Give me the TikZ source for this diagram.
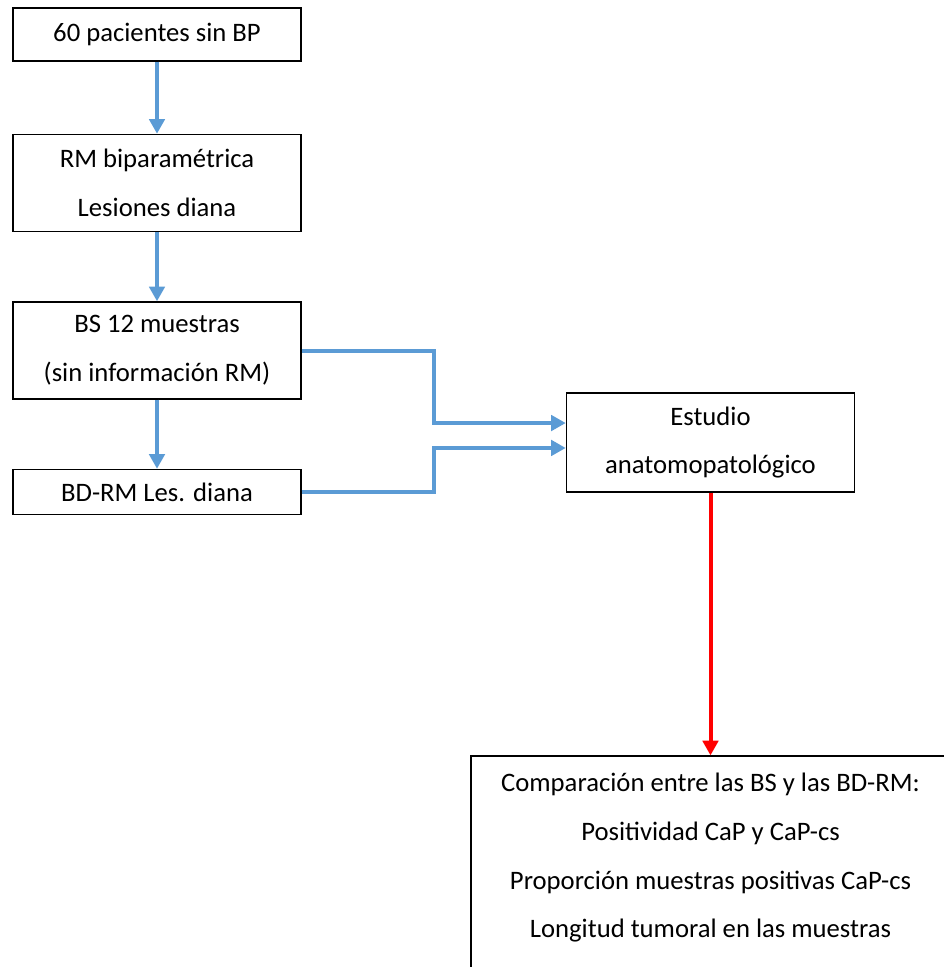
\documentclass[tikz,border=0pt]{standalone}
\usepackage{fontspec}
\setmainfont{Carlito}
\usepackage{tikz}
\usepackage{xcolor}
\usetikzlibrary{arrows.meta,positioning}
\definecolor{flowblue}{HTML}{5B9BD5}
\definecolor{flowred}{HTML}{FF0000}

\begin{document}
\begin{tikzpicture}[
  x=0.75pt, y=-0.75pt,
  node distance=51.8pt,
  flowbox/.style={draw, line width=1.1pt, align=center, minimum width=216pt, inner sep=0pt,
    font=\fontsize{20}{36.5}\selectfont},
  bluearrow/.style={-{Triangle[length=11pt, width=11.5pt]}, line width=3pt, flowblue},
  redarrow/.style={-{Triangle[length=11pt, width=11.5pt]}, line width=3pt, flowred}
]
\clip (0,0) rectangle (944,967);
\node[flowbox, minimum height=39.75pt] (a) at (157,34.5) {60 pacientes sin BP};
\node[flowbox, minimum height=72.75pt, below=54pt of a] (b) {RM biparamétrica\\Lesiones diana};
\node[flowbox, minimum height=72.75pt, below=of b] (c) {BS 12 muestras\\(sin información RM)};
\node[flowbox, minimum height=33.75pt, below=of c] (d) {BD-RM Les. diana};
\node[flowbox, minimum height=74.25pt] (e) at (710.5,442.5) {Estudio\\anatomopatológico};
\node[flowbox, minimum width=359pt, inner ysep=13pt, below=197pt of e] (f)
  {Comparación entre las BS y las BD-RM:\\Positividad CaP y CaP-cs\\Proporción muestras positivas CaP-cs\\Longitud tumoral en las muestras\\~};
\draw[bluearrow] (a) -- (b);
\draw[bluearrow] (b) -- (c);
\draw[bluearrow] (c) -- (d);
\draw[bluearrow] (c.east) -- ++(132,0) |- ([yshift=14.6pt]e.west);
\draw[bluearrow] (d.east) -- ++(132,0) |- ([yshift=-4.1pt]e.west);
\draw[redarrow] (e) -- (f);
\end{tikzpicture}
\end{document}
